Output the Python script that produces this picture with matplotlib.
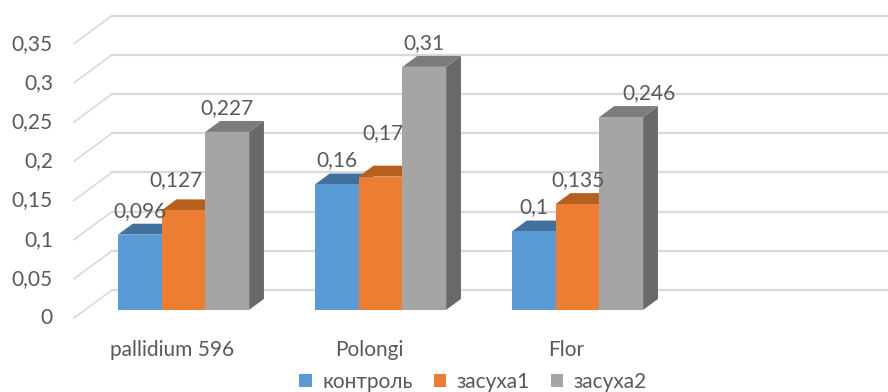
import matplotlib
matplotlib.use("Agg")
import matplotlib.pyplot as plt
from matplotlib.patches import Patch

plt.rcParams['font.family'] = ['Lato', 'DejaVu Sans']

# data
categories = ['pallidium 596', 'Polongi', 'Flor']
series_names = ['контроль', 'засуха1', 'засуха2']
kontrol = [0.096, 0.16, 0.1]
zasuha1 = [0.127, 0.17, 0.135]
zasuha2 = [0.227, 0.31, 0.246]
value_labels = [['0,096', '0,16', '0,1'],
                ['0,127', '0,17', '0,135'],
                ['0,227', '0,31', '0,246']]
y_ticks = [0, 0.05, 0.1, 0.15, 0.2, 0.25, 0.3, 0.35]
y_tick_labels = ['0', '0,05', '0,1', '0,15', '0,2', '0,25', '0,3', '0,35']

series = [kontrol, zasuha1, zasuha2]
front_cols = ['#5B9BD5', '#ED7D31', '#A5A5A5']
top_cols = ['#41719C', '#B5601F', '#7C7C7C']
side_cols = ['#3F6E98', '#A9561D', '#696969']
text_col = '#595959'
grid_col = '#D9D9D9'
fs = 15

# fake 3d: depth 0 = front edge of the floor, depth 1 = back wall
DX = 38 / 197.0
DY = 28 / 784.0
d_front, d_back = 0.29, 0.68
bar_w = 0.222
n_slots = 4

# label nudges in pixels (ser, grp) -> (dx, dy)
nudge = {(1, 0): (-8, 6), (1, 1): (2, 20), (2, 2): (28, 0)}


def proj(x, v, d):
    return x + d * DX, v + d * DY


fig = plt.figure(figsize=(8.88, 3.92), dpi=100)
ax = fig.add_axes([0, 0, 1, 1])
ax.set_xlim(-74 / 197.0, (888 - 74) / 197.0)
ax.set_ylim((318 - 392) / 784.0, 318 / 784.0)
ax.axis('off')

# walls: diagonal on the side, horizontal on the back
for v, lab in zip(y_ticks, y_tick_labels):
    x0, y0 = proj(0, v, 0)
    x1, y1 = proj(0, v, 1)
    ax.plot([x0, x1], [y0, y1], color=grid_col, lw=1.2, zorder=1)
    ax.plot([x1, n_slots + 1], [y1, y1], color=grid_col, lw=1.6, zorder=1)
    ax.text(-0.107, v, lab, ha='right', va='center', fontsize=fs, color=text_col)

for g, cat in enumerate(categories):
    start = g + 0.5 - 1.5 * bar_w
    for s in range(3):
        v = series[s][g]
        xl = start + s * bar_w
        xr = xl + bar_w
        front = [proj(xl, 0, d_front), proj(xr, 0, d_front),
                 proj(xr, v, d_front), proj(xl, v, d_front)]
        top = [proj(xl, v, d_front), proj(xr, v, d_front),
               proj(xr, v, d_back), proj(xl, v, d_back)]
        side = [proj(xr, 0, d_front), proj(xr, 0, d_back),
                proj(xr, v, d_back), proj(xr, v, d_front)]
        z = 3 + g * 10 + s
        for poly, col in ((side, side_cols[s]), (top, top_cols[s]), (front, front_cols[s])):
            xs, ys = zip(*poly)
            ax.fill(xs, ys, color=col, lw=0, zorder=z)
        cx, _ = proj(xl + bar_w / 2, 0, d_front)
        _, ty = proj(0, v, d_back)
        dx, dy = nudge.get((s, g), (0, 0))
        ax.annotate(value_labels[s][g], (cx, ty), xytext=(dx, 13 + dy),
                    textcoords='offset pixels', ha='center', va='center',
                    fontsize=fs, color=text_col, zorder=50)
    ax.text(g + 0.5, (318 - 350) / 784.0, cat, ha='center', va='center',
            fontsize=fs, color=text_col)

handles = [Patch(facecolor=c, edgecolor='none', label=n) for c, n in zip(front_cols, series_names)]
leg = fig.legend(handles=handles, loc='center', bbox_to_anchor=(473 / 888.0, 1 - 382 / 392.0),
                 ncol=3, frameon=False, fontsize=fs, handlelength=0.6, handleheight=0.6,
                 handletextpad=0.5, columnspacing=1.0, borderaxespad=0)
for t in leg.get_texts():
    t.set_color(text_col)

fig.savefig('out.png', dpi=100)
